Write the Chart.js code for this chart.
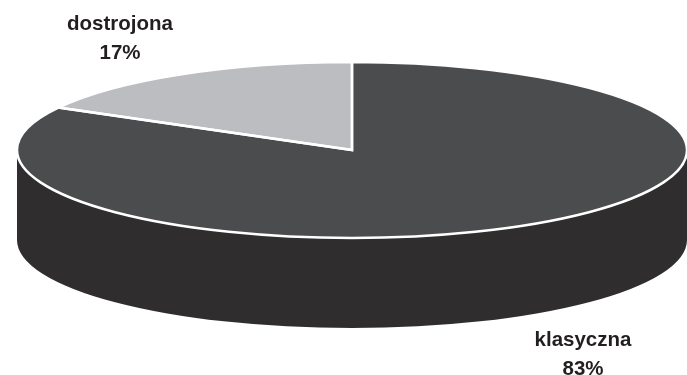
<!DOCTYPE html>
<html><head><meta charset="utf-8">
<script src="https://cdn.jsdelivr.net/npm/chart.js@4/dist/chart.umd.min.js"></script>
<style>html,body{margin:0;padding:0;background:#fff;overflow:hidden}#wrap{width:687px;height:375px;position:relative}</style>
</head><body><div id="wrap"><canvas id="c"></canvas></div>
<script>
// ---- data ----
const categories = ['klasyczna', 'dostrojona'];
const shares = [83, 17];
// ---- style ----
const topColors = ['#4b4c4e', '#bcbdc0'];
const sideColors = ['#2f2d2e', '#8c8d90'];
const labelAnchors = [{x: 583, y: 346}, {x: 120, y: 30}]; // baseline of first line

const pie3d = {
  id: 'pie3d',
  beforeDatasetsDraw(chart, args, opts) {
    const ctx = chart.ctx;
    const arcs = chart.getDatasetMeta(0).data;
    arcs.forEach((arc, i) => {
      const rx = arc.outerRadius, ry = arc.outerRadius * opts.tilt;
      for (let k = -1; k <= 1; k++) {
        const a0 = Math.max(arc.startAngle, 2 * Math.PI * k);
        const a1 = Math.min(arc.endAngle, 2 * Math.PI * k + Math.PI);
        if (a1 > a0) {
          ctx.beginPath();
          ctx.ellipse(arc.x, arc.y, rx, ry, 0, a0, a1, false);
          ctx.ellipse(arc.x, arc.y + opts.depth, rx, ry, 0, a1, a0, true);
          ctx.closePath();
          ctx.fillStyle = opts.sideColors[i];
          ctx.fill();
        }
      }
    });
    const a = arcs[0];
    ctx.save();
    ctx.translate(a.x, a.y);
    ctx.scale(1, opts.tilt);
    ctx.translate(-a.x, -a.y);
  },
  afterDatasetsDraw(chart, args, opts) {
    const ctx = chart.ctx;
    ctx.restore();
    const arcs = chart.getDatasetMeta(0).data;
    ctx.save();
    ctx.strokeStyle = '#ffffff';
    ctx.lineWidth = opts.lineWidth;
    ctx.lineJoin = 'miter';
    arcs.forEach((arc) => {
      const rx = arc.outerRadius, ry = arc.outerRadius * opts.tilt;
      ctx.beginPath();
      ctx.moveTo(arc.x, arc.y);
      ctx.lineTo(arc.x + rx * Math.cos(arc.startAngle), arc.y + ry * Math.sin(arc.startAngle));
      ctx.ellipse(arc.x, arc.y, rx, ry, 0, arc.startAngle, arc.endAngle, false);
      ctx.closePath();
      ctx.stroke();
    });
    ctx.restore();
  },
  afterDraw(chart, args, opts) {
    const ctx = chart.ctx;
    const ds = chart.data.datasets[0].data;
    const total = ds.reduce((s, v) => s + v, 0);
    ctx.save();
    ctx.fillStyle = '#231f20';
    ctx.font = 'bold 20.5px "Liberation Sans", Arial, sans-serif';
    ctx.textAlign = 'center';
    ctx.textBaseline = 'alphabetic';
    chart.data.labels.forEach((lab, i) => {
      const p = opts.anchors[i];
      ctx.fillText(lab, p.x, p.y);
      ctx.fillText(Math.round(ds[i] / total * 100) + '%', p.x, p.y + opts.lineHeight);
    });
    ctx.restore();
  }
};

new Chart(document.getElementById('c'), {
  type: 'pie',
  data: {
    labels: categories,
    datasets: [{
      data: shares,
      backgroundColor: topColors,
      borderWidth: 0,
      radius: 335,
      clip: false
    }]
  },
  options: {
    responsive: true,
    maintainAspectRatio: false,
    animation: false,
    events: [],
    layout: {padding: {left: 17, right: 0, top: 0, bottom: 75}},
    plugins: {
      legend: {display: false},
      tooltip: {enabled: false},
      pie3d: {tilt: 88 / 335, depth: 90, sideColors: sideColors, lineWidth: 2.5,
              anchors: labelAnchors, lineHeight: 28.5}
    }
  },
  plugins: [pie3d]
});
</script>
</body></html>
